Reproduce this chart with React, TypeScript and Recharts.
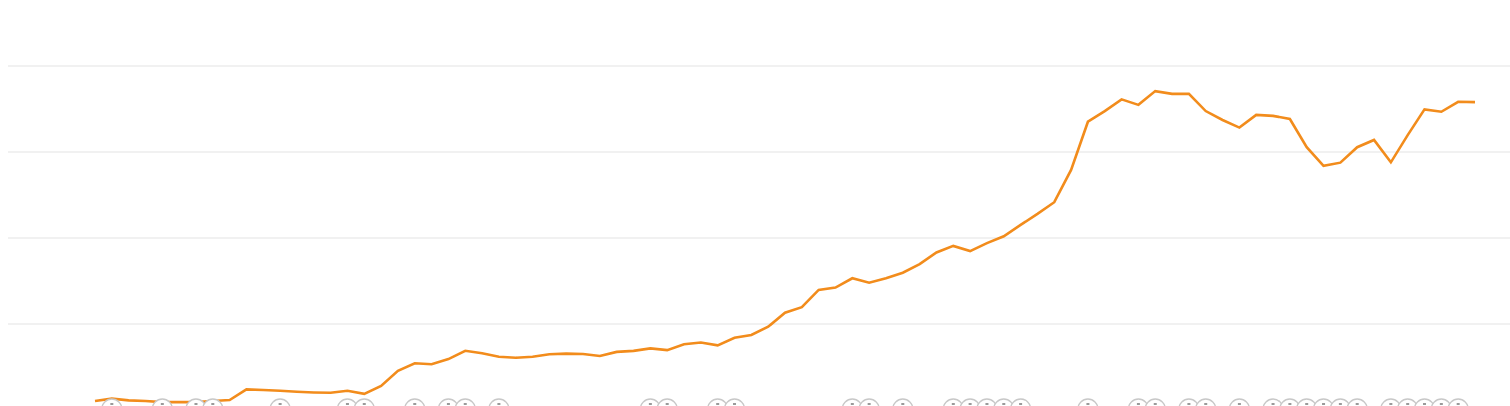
import { LineChart, Line, XAxis, YAxis, CartesianGrid } from "recharts";

// weekly index values (0-100 scale)
const values = [
  2.6, 3.3, 2.8, 2.6, 2.3, 2.3, 2.3, 2.6, 2.9, 6.0,
  5.8, 5.6, 5.3, 5.1, 5.0, 5.6, 4.7, 7.0, 11.4, 13.6,
  13.3, 14.8, 17.2, 16.5, 15.5, 15.2, 15.5, 16.2, 16.4, 16.3,
  15.7, 16.9, 17.2, 17.9, 17.4, 19.1, 19.6, 18.8, 21.0, 21.8,
  24.2, 28.3, 29.9, 34.9, 35.6, 38.3, 37.0, 38.3, 39.9, 42.4,
  45.8, 47.7, 46.2, 48.5, 50.5, 53.8, 57.0, 60.4, 69.8, 83.8,
  86.9, 90.3, 88.7, 92.7, 91.9, 91.9, 86.9, 84.3, 82.1, 85.8,
  85.5, 84.6, 76.4, 71.0, 71.9, 76.4, 78.5, 72.0, 79.9, 87.4,
  86.7, 89.6, 89.5,
];

// points that carry an annotation marker on the baseline
const markerIndexes = [
  1, 4, 6, 7, 11, 15, 16, 19, 21, 22, 24, 33, 34, 37, 38, 45, 46, 48,
  51, 52, 53, 54, 55, 59, 62, 63, 65, 66, 68, 70, 71, 72, 73, 74, 75,
  77, 78, 79, 80, 81,
];

const yTicks = [0, 25, 50, 75, 100];

const data = values.map((v, i) => ({
  idx: i,
  value: v,
  marker: markerIndexes.includes(i) ? 0 : null,
}));

const MarkerDot = (props: any) => {
  const { cx, cy, payload, index } = props;
  if (payload.marker === null || cx == null || cy == null) return <g key={index} />;
  return (
    <g key={index}>
      <circle cx={cx} cy={cy - 1} r={10} fill="#ffffff" stroke="#c8c8c8" strokeWidth={1.3} />
      <rect x={cx - 1.5} y={cy - 7} width={3} height={2} fill="#9a9a9a" />
    </g>
  );
};

export default function App() {
  return (
    <div style={{ position: "fixed", left: 8, top: 8, width: 1502, height: 398, overflow: "hidden" }}>
      <LineChart
        width={1530}
        height={422}
        data={data}
        margin={{ top: 58, right: 0, left: 0, bottom: 20 }}
      >
        <CartesianGrid vertical={false} stroke="#e3e3e3" strokeWidth={1} />
        <XAxis dataKey="idx" hide padding={{ left: 87, right: 63 }} />
        <YAxis hide domain={[0, 100]} ticks={yTicks} />
        <Line
          dataKey="marker"
          stroke="none"
          dot={MarkerDot}
          activeDot={false}
          isAnimationActive={false}
        />
        <Line
          dataKey="value"
          type="linear"
          stroke="#f28c1c"
          strokeWidth={2.6}
          dot={false}
          activeDot={false}
          isAnimationActive={false}
        />
      </LineChart>
    </div>
  );
}
